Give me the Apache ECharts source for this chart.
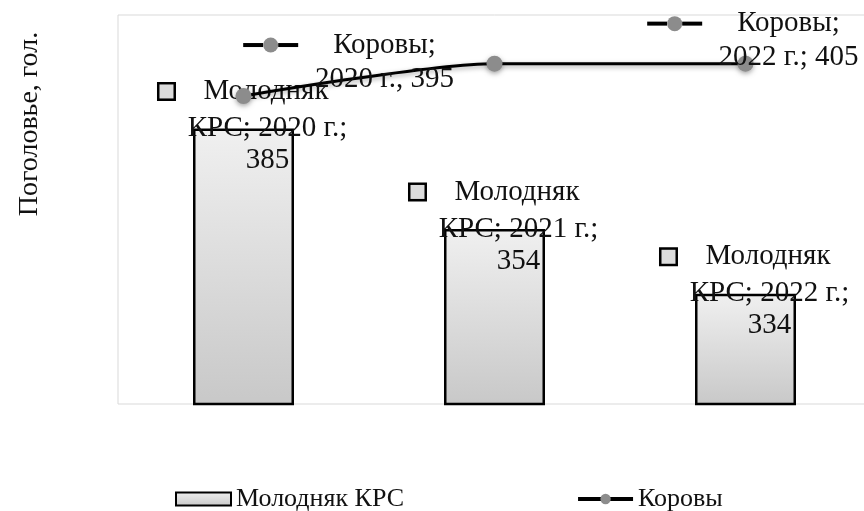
<!DOCTYPE html>
<html>
<head>
<meta charset="utf-8">
<script src="https://cdn.jsdelivr.net/npm/echarts@6/dist/echarts.min.js"></script>
<style>
  html, body { margin: 0; padding: 0; background: #fff; overflow: hidden; }
  #main { width: 871px; height: 511px; }
</style>
</head>
<body>
<div id="main"></div>
<script>
var years = ['2020 г.', '2021 г.', '2022 г.'];
var youngCattle = [385, 354, 334];
var cows = [395, 405, 405];
// which points of "Коровы" carry a label, and the separator used in it
var cowLabelShown = [true, false, true];
var cowLabelSep = [', ', '; ', '; '];
var cowLabelOffset = [[141, 8], null, [43, 19]];

var fontName = 'Liberation Serif';
var chart = echarts.init(document.getElementById('main'));

var barFill = new echarts.graphic.LinearGradient(0, 0, 0, 1, [
    { offset: 0, color: '#f0f0f0' },
    { offset: 1, color: '#c8c8c8' }
]);

var cowData = cows.map(function (v, i) {
    if (!cowLabelShown[i]) {
        return { value: v, label: { show: false } };
    }
    return { value: v, label: { show: true, offset: cowLabelOffset[i] } };
});

var option = {
    animation: false,
    grid: {
        left: 118,
        top: 15,
        right: 0,
        bottom: 107,
        show: true,
        borderColor: '#d9d9d9',
        borderWidth: 1,
        backgroundColor: 'transparent'
    },
    legend: {
        left: 170,
        top: 481,
        itemWidth: 55,
        itemHeight: 13,
        itemGap: 172,
        textStyle: { fontFamily: fontName, fontSize: 26, color: '#111' },
        data: [
            { name: 'Молодняк КРС', icon: 'rect' },
            {
                name: 'Коровы',
                lineStyle: { width: 4, color: '#000' },
                itemStyle: { color: '#8c8c8c' }
            }
        ]
    },
    xAxis: {
        type: 'category',
        data: years,
        axisLine: { show: false },
        axisTick: { show: false },
        axisLabel: { show: false }
    },
    yAxis: {
        type: 'value',
        min: 300,
        max: 420,
        axisLine: { show: false },
        axisTick: { show: false },
        axisLabel: { show: false },
        splitLine: { show: false }
    },
    graphic: [{
        type: 'text',
        x: 30,
        y: 124,
        rotation: Math.PI / 2,
        style: {
            text: 'Поголовье, гол.',
            font: '28px "Liberation Serif"',
            fill: '#111',
            align: 'center',
            verticalAlign: 'middle'
        }
    }],
    series: [
        {
            name: 'Молодняк КРС',
            type: 'bar',
            barWidth: 101,
            data: youngCattle,
            itemStyle: {
                color: barFill,
                borderColor: '#000',
                borderWidth: 2.5
            },
            label: {
                show: true,
                position: 'top',
                distance: 0,
                offset: [24, 48],
                align: 'center',
                fontFamily: fontName,
                fontSize: 29,
                color: '#111',
                lineHeight: 32,
                formatter: function (p) {
                    return '{key|}{sp|}{t1|Молодняк}{pad|}\nКРС; ' + years[p.dataIndex] + ';\n' + p.value;
                },
                rich: {
                    key: {
                        width: 14, height: 14,
                        backgroundColor: '#dcdcdc',
                        borderColor: '#000', borderWidth: 2.5,
                        lineHeight: 42, verticalAlign: 'middle'
                    },
                    sp: { width: 30, lineHeight: 42 },
                    pad: { width: 47, lineHeight: 42 },
                    t1: { fontFamily: fontName, fontSize: 29, color: '#111', lineHeight: 42 }
                }
            }
        },
        {
            name: 'Коровы',
            type: 'line',
            smooth: 0.25,
            data: cowData,
            symbol: 'circle',
            symbolSize: 16,
            lineStyle: {
                color: '#000',
                width: 3,
                shadowBlur: 5,
                shadowColor: 'rgba(0,0,0,0.35)',
                shadowOffsetY: 2
            },
            itemStyle: {
                color: '#8c8c8c',
                shadowBlur: 5,
                shadowColor: 'rgba(0,0,0,0.35)',
                shadowOffsetY: 2
            },
            label: {
                position: 'top',
                distance: 0,
                align: 'center',
                fontFamily: fontName,
                fontSize: 29,
                color: '#111',
                lineHeight: 34,
                formatter: function (p) {
                    return '{lk|}{dot|}{lk|}{gap|}Коровы;{pad|}\n' + years[p.dataIndex] + cowLabelSep[p.dataIndex] + p.value;
                },
                rich: {
                    lk: { width: 20, height: 4, backgroundColor: '#000', verticalAlign: 'middle' },
                    dot: { width: 15, height: 15, borderRadius: 8, backgroundColor: '#8c8c8c', verticalAlign: 'middle' },
                    gap: { width: 35 },
                    pad: { width: 90 }
                }
            }
        }
    ]
};

chart.setOption(option);
</script>
</body>
</html>
